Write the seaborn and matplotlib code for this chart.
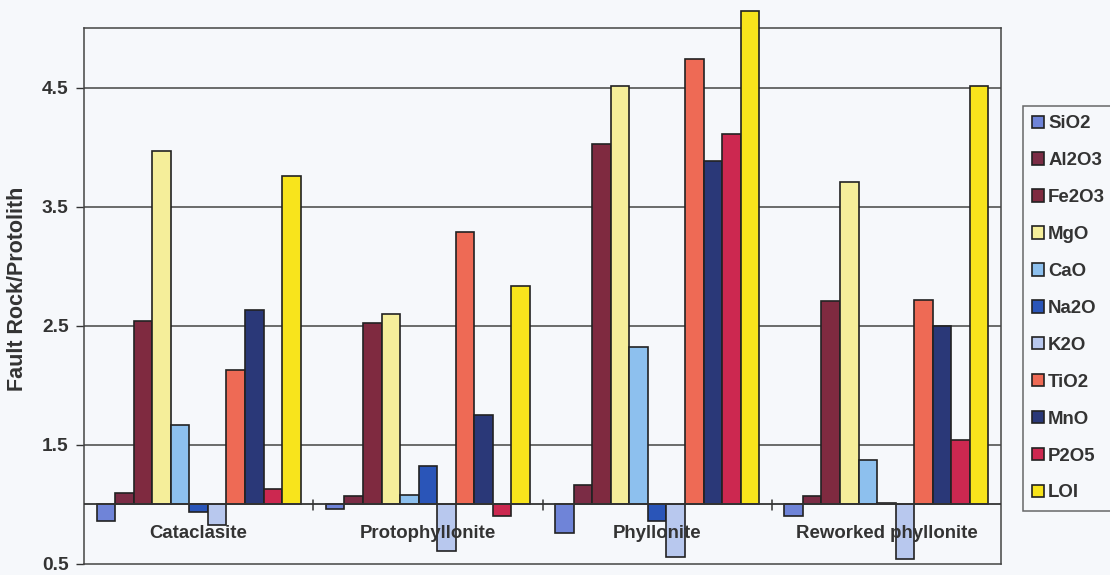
import matplotlib
matplotlib.use("Agg")
import matplotlib.pyplot as plt
from matplotlib.ticker import FixedLocator, FuncFormatter
import seaborn as sns
import pandas as pd

# Fault rock / protolith ratios for each oxide
categories = ["Cataclasite", "Protophyllonite", "Phyllonite", "Reworked phyllonite"]
oxides = ["SiO2", "Al2O3", "Fe2O3", "MgO", "CaO", "Na2O", "K2O", "TiO2", "MnO", "P2O5", "LOI"]

cataclasite = [0.86, 1.10, 2.54, 3.97, 1.67, 0.94, 0.83, 2.13, 2.63, 1.13, 3.76]
protophyllonite = [0.96, 1.07, 2.52, 2.60, 1.08, 1.32, 0.61, 3.29, 1.75, 0.90, 2.83]
phyllonite = [0.76, 1.16, 4.03, 4.51, 2.32, 0.86, 0.56, 4.74, 3.88, 4.11, 5.14]
reworked = [0.90, 1.07, 2.71, 3.71, 1.37, 1.01, 0.54, 2.72, 2.50, 1.54, 4.51]

colors = ["#6f84d8", "#7b2c45", "#7f2a40", "#f5ee9a", "#8dc0ee", "#2a55b8",
          "#b8c8ee", "#ee6a55", "#2a3878", "#cc2850", "#f8e41c"]

BASE = 1.0  # ratio of 1 = no change; bars grow up or down from here

rows = []
for cat, vals in zip(categories, [cataclasite, protophyllonite, phyllonite, reworked]):
    for ox, v in zip(oxides, vals):
        rows.append({"rock": cat, "oxide": ox, "ratio": v, "change": v - BASE})
df = pd.DataFrame(rows)

sns.set_theme(style="white")
plt.rcParams["font.family"] = ["Liberation Sans", "DejaVu Sans"]
plt.rcParams["font.weight"] = "bold"

bg = "#f6f8fb"
ink = "#333333"
fig = plt.figure(figsize=(11.1, 5.75), dpi=100, facecolor=bg)
ax_bottom = 1 - 564 / 575
ax_top = 1 - 28 / 575
ax = fig.add_axes([0.0757, ax_bottom, 0.9018 - 0.0757, ax_top - ax_bottom])
ax.set_facecolor(bg)

sns.barplot(data=df, x="rock", y="change", hue="oxide", order=categories,
            hue_order=oxides, palette=colors, width=0.89, gap=0,
            edgecolor="#222222", linewidth=1.2, saturation=1,
            clip_on=False, zorder=3, ax=ax, legend=True)

ax.set_ylim(-0.5, 4.0)
ax.set_xlim(-0.5, len(categories) - 0.5)

# y axis labelled in ratio units
yt = [-0.5, 0.5, 1.5, 2.5, 3.5]
ax.yaxis.set_major_locator(FixedLocator(yt))
ax.yaxis.set_major_formatter(FuncFormatter(lambda v, p: f"{v + BASE:.1f}"))
ax.tick_params(axis="y", which="major", left=True, length=6, width=1,
               color=ink, labelsize=13.8, labelcolor=ink, pad=5)
for v in yt[1:]:
    ax.axhline(v, color="#444444", lw=1.1, zorder=1)
ax.axhline(0, color="#333333", lw=1.3, zorder=4)

# category separators on the baseline
for b in [i + 0.5 for i in range(len(categories) - 1)]:
    ax.plot([b, b], [-0.05, 0.04], color=ink, lw=1.1, zorder=4)

# category names just under the baseline
ax.set_xticks([])
ax.set_xlabel("")
for i, cat in enumerate(categories):
    ax.text(i, 0.755 - BASE, cat, ha="center", va="center", fontsize=13.4,
            fontweight="bold", color=ink, zorder=5)

ax.set_ylabel("Fault Rock/Protolith", fontsize=15.5, fontweight="bold", color=ink)
ax.yaxis.set_label_coords(-0.061, 0.513)

for s in ax.spines.values():
    s.set_visible(True)
    s.set_color("#444444")
    s.set_linewidth(1.1)

handles, labels = ax.get_legend_handles_labels()
ax.legend_.remove()
leg = fig.legend(handles, labels, loc="upper left",
                 bbox_to_anchor=(1023 / 1110, 1 - 106 / 575),
                 frameon=True, fancybox=False, shadow=False,
                 handlelength=0.65, handleheight=0.65, handletextpad=0.2,
                 labelspacing=1.07, borderpad=0.5,
                 prop={"weight": "bold", "size": 13.4}, borderaxespad=0)
leg.get_frame().set_edgecolor("#444444")
leg.get_frame().set_linewidth(1.1)
leg.get_frame().set_facecolor(bg)
for t in leg.get_texts():
    t.set_color(ink)

fig.savefig("out.png", dpi=100, facecolor=bg)
